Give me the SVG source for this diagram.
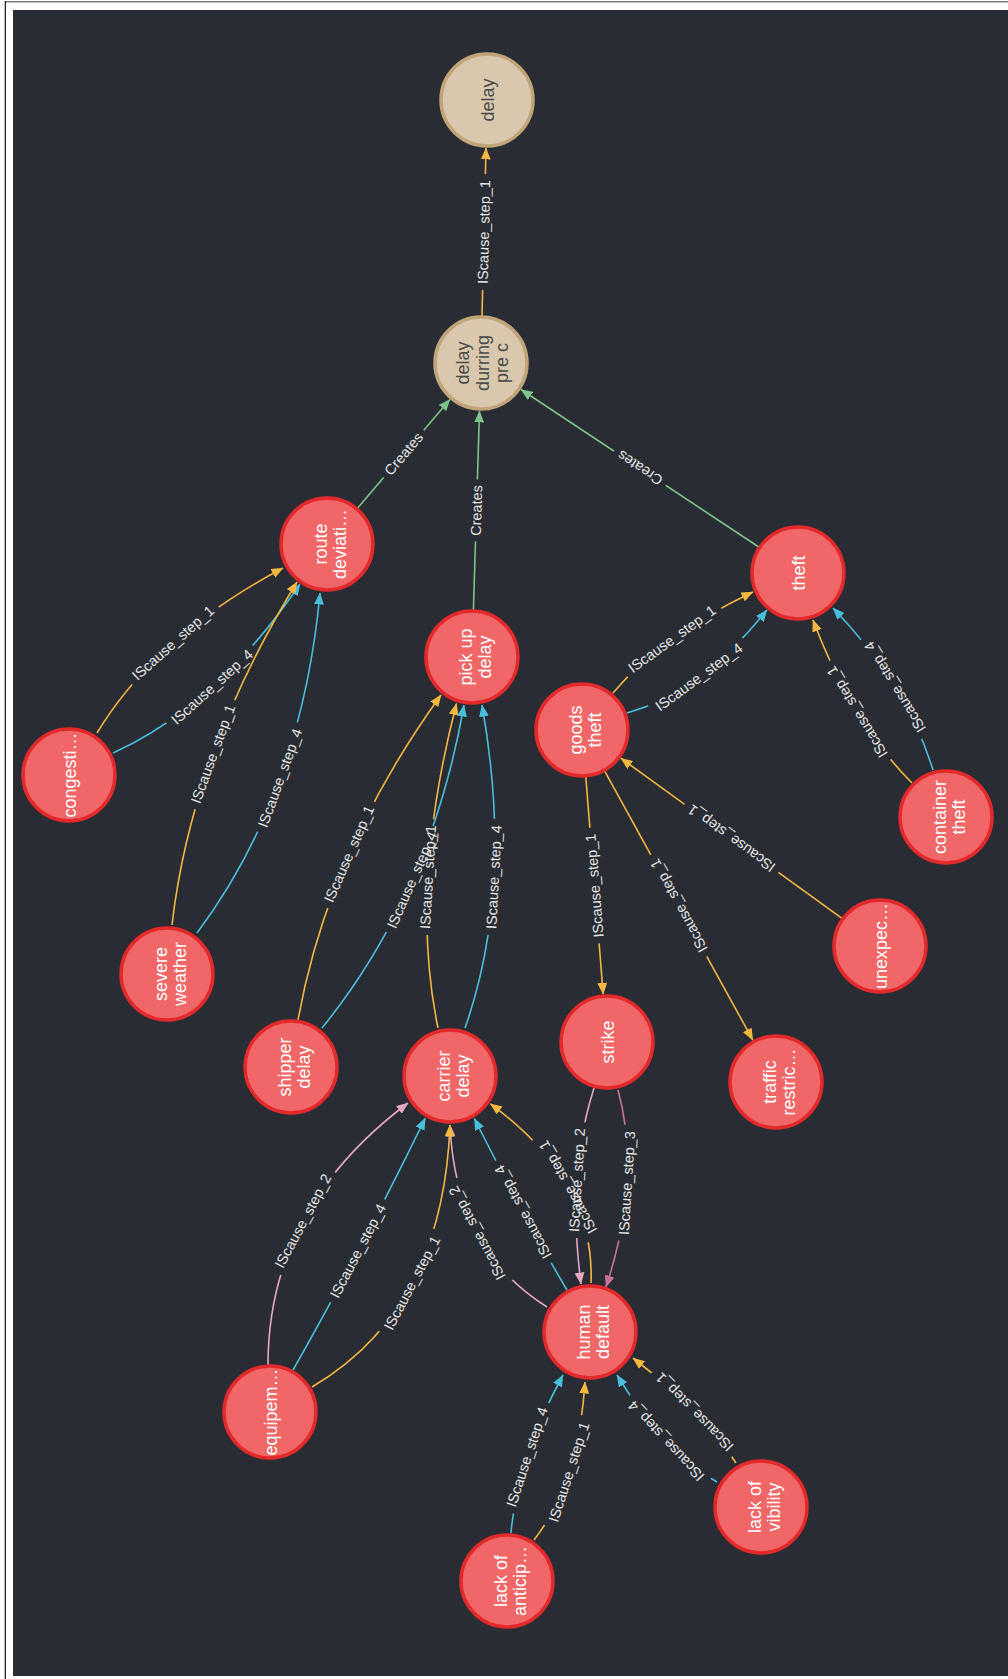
<svg xmlns="http://www.w3.org/2000/svg" width="1008" height="1679" viewBox="0 0 1008 1679">
<style>
.nr circle{fill:#f16767;stroke:#e2292b;stroke-width:3.5}
.nt circle{fill:#d9c8ad;stroke:#c1a57a;stroke-width:3.5}
.nl{font-family:"Liberation Sans",Arial,sans-serif;font-size:18px;fill:#ffffff;text-anchor:middle}
.nt .nl{fill:#4a4a4a}
.el{font-family:"Liberation Sans",Arial,sans-serif;font-size:14.5px;fill:#e6e6e6;text-anchor:middle;dominant-baseline:central}
.e{fill:none;stroke-width:1.6}
.o{stroke:#f5b841;marker-end:url(#ao)}
.b{stroke:#48bfdc;marker-end:url(#ab)}
.g{stroke:#7ec48b;marker-end:url(#ag)}
.p{stroke:#e5a8c3;marker-end:url(#ap)}
.dp{stroke:#c8739b;marker-end:url(#adp)}
</style>
<defs>
<marker id="ao" markerUnits="userSpaceOnUse" markerWidth="12" markerHeight="10" viewBox="0 0 11 9" refX="10.5" refY="4.5" orient="auto"><path d="M0,0 L11,4.5 L0,9 z" fill="#f5b841"/></marker>
<marker id="ab" markerUnits="userSpaceOnUse" markerWidth="12" markerHeight="10" viewBox="0 0 11 9" refX="10.5" refY="4.5" orient="auto"><path d="M0,0 L11,4.5 L0,9 z" fill="#48bfdc"/></marker>
<marker id="ag" markerUnits="userSpaceOnUse" markerWidth="12" markerHeight="10" viewBox="0 0 11 9" refX="10.5" refY="4.5" orient="auto"><path d="M0,0 L11,4.5 L0,9 z" fill="#7ec48b"/></marker>
<marker id="ap" markerUnits="userSpaceOnUse" markerWidth="12" markerHeight="10" viewBox="0 0 11 9" refX="10.5" refY="4.5" orient="auto"><path d="M0,0 L11,4.5 L0,9 z" fill="#e5a8c3"/></marker>
<marker id="adp" markerUnits="userSpaceOnUse" markerWidth="12" markerHeight="10" viewBox="0 0 11 9" refX="10.5" refY="4.5" orient="auto"><path d="M0,0 L11,4.5 L0,9 z" fill="#c8739b"/></marker>
<rect id="mw" width="1008" height="1679" fill="#fff"/>
<rect id="gl" x="-58" y="-15" width="116" height="30" fill="#000"/>
<rect id="gs" x="-31" y="-15" width="62" height="30" fill="#000"/>
<mask id="m1" maskUnits="userSpaceOnUse" x="0" y="0" width="1008" height="1679"><use href="#mw"/><use href="#gl" transform="translate(484,232) rotate(-88.6)"/></mask>
<mask id="m2" maskUnits="userSpaceOnUse" x="0" y="0" width="1008" height="1679"><use href="#mw"/><use href="#gs" transform="translate(403.7,453.8) rotate(-49.7)"/></mask>
<mask id="m3" maskUnits="userSpaceOnUse" x="0" y="0" width="1008" height="1679"><use href="#mw"/><use href="#gs" transform="translate(476.5,510.5) rotate(-88.2)"/></mask>
<mask id="m4" maskUnits="userSpaceOnUse" x="0" y="0" width="1008" height="1679"><use href="#mw"/><use href="#gs" transform="translate(640,468) rotate(-146.5)"/></mask>
<mask id="m5" maskUnits="userSpaceOnUse" x="0" y="0" width="1008" height="1679"><use href="#mw"/><use href="#gl" transform="translate(173,643) rotate(-41.6)"/></mask>
<mask id="m6" maskUnits="userSpaceOnUse" x="0" y="0" width="1008" height="1679"><use href="#mw"/><use href="#gl" transform="translate(212,687) rotate(-42.1)"/></mask>
<mask id="m7" maskUnits="userSpaceOnUse" x="0" y="0" width="1008" height="1679"><use href="#mw"/><use href="#gl" transform="translate(213,754) rotate(-70)"/></mask>
<mask id="m8" maskUnits="userSpaceOnUse" x="0" y="0" width="1008" height="1679"><use href="#mw"/><use href="#gl" transform="translate(280,778) rotate(-70.1)"/></mask>
<mask id="m9" maskUnits="userSpaceOnUse" x="0" y="0" width="1008" height="1679"><use href="#mw"/><use href="#gl" transform="translate(349,854) rotate(-66.3)"/></mask>
<mask id="m10" maskUnits="userSpaceOnUse" x="0" y="0" width="1008" height="1679"><use href="#mw"/><use href="#gl" transform="translate(412,880) rotate(-66.3)"/></mask>
<mask id="m11" maskUnits="userSpaceOnUse" x="0" y="0" width="1008" height="1679"><use href="#mw"/><use href="#gl" transform="translate(428,877) rotate(-86.7)"/></mask>
<mask id="m12" maskUnits="userSpaceOnUse" x="0" y="0" width="1008" height="1679"><use href="#mw"/><use href="#gl" transform="translate(494,877) rotate(-87)"/></mask>
<mask id="m13" maskUnits="userSpaceOnUse" x="0" y="0" width="1008" height="1679"><use href="#mw"/><use href="#gl" transform="translate(672,639) rotate(-35.8)"/></mask>
<mask id="m14" maskUnits="userSpaceOnUse" x="0" y="0" width="1008" height="1679"><use href="#mw"/><use href="#gl" transform="translate(699,677) rotate(-36.3)"/></mask>
<mask id="m15" maskUnits="userSpaceOnUse" x="0" y="0" width="1008" height="1679"><use href="#mw"/><use href="#gl" transform="translate(857,712) rotate(-121.3)"/></mask>
<mask id="m16" maskUnits="userSpaceOnUse" x="0" y="0" width="1008" height="1679"><use href="#mw"/><use href="#gl" transform="translate(895,687) rotate(-121.7)"/></mask>
<mask id="m17" maskUnits="userSpaceOnUse" x="0" y="0" width="1008" height="1679"><use href="#mw"/><use href="#gl" transform="translate(731.5,838.3) rotate(-144.1)"/></mask>
<mask id="m18" maskUnits="userSpaceOnUse" x="0" y="0" width="1008" height="1679"><use href="#mw"/><use href="#gl" transform="translate(594.5,885.6) rotate(-94.6)"/></mask>
<mask id="m19" maskUnits="userSpaceOnUse" x="0" y="0" width="1008" height="1679"><use href="#mw"/><use href="#gl" transform="translate(678.8,905.6) rotate(-118.9)"/></mask>
<mask id="m20" maskUnits="userSpaceOnUse" x="0" y="0" width="1008" height="1679"><use href="#mw"/><use href="#gl" transform="translate(577,1180) rotate(-86.6)"/></mask>
<mask id="m21" maskUnits="userSpaceOnUse" x="0" y="0" width="1008" height="1679"><use href="#mw"/><use href="#gl" transform="translate(627,1183) rotate(-86.5)"/></mask>
<mask id="m22" maskUnits="userSpaceOnUse" x="0" y="0" width="1008" height="1679"><use href="#mw"/><use href="#gl" transform="translate(477,1233) rotate(-118.1)"/></mask>
<mask id="m23" maskUnits="userSpaceOnUse" x="0" y="0" width="1008" height="1679"><use href="#mw"/><use href="#gl" transform="translate(523,1212) rotate(-118.4)"/></mask>
<mask id="m24" maskUnits="userSpaceOnUse" x="0" y="0" width="1008" height="1679"><use href="#mw"/><use href="#gl" transform="translate(568,1187) rotate(-119.3)"/></mask>
<mask id="m25" maskUnits="userSpaceOnUse" x="0" y="0" width="1008" height="1679"><use href="#mw"/><use href="#gl" transform="translate(303,1221) rotate(-61.9)"/></mask>
<mask id="m26" maskUnits="userSpaceOnUse" x="0" y="0" width="1008" height="1679"><use href="#mw"/><use href="#gl" transform="translate(358,1251) rotate(-62.3)"/></mask>
<mask id="m27" maskUnits="userSpaceOnUse" x="0" y="0" width="1008" height="1679"><use href="#mw"/><use href="#gl" transform="translate(412,1283) rotate(-62.2)"/></mask>
<mask id="m28" maskUnits="userSpaceOnUse" x="0" y="0" width="1008" height="1679"><use href="#mw"/><use href="#gl" transform="translate(527,1457) rotate(-71.8)"/></mask>
<mask id="m29" maskUnits="userSpaceOnUse" x="0" y="0" width="1008" height="1679"><use href="#mw"/><use href="#gl" transform="translate(569,1472) rotate(-72.1)"/></mask>
<mask id="m30" maskUnits="userSpaceOnUse" x="0" y="0" width="1008" height="1679"><use href="#mw"/><use href="#gl" transform="translate(666,1441) rotate(-133.1)"/></mask>
<mask id="m31" maskUnits="userSpaceOnUse" x="0" y="0" width="1008" height="1679"><use href="#mw"/><use href="#gl" transform="translate(694.5,1412) rotate(-134.5)"/></mask>
</defs>

<rect width="1008" height="1679" fill="#ffffff"/>
<line x1="5" y1="1.8" x2="1008" y2="1.8" stroke="#7a7a7a" stroke-width="1.6"/>
<line x1="5.3" y1="1" x2="5.3" y2="1679" stroke="#111" stroke-width="1.2"/>
<rect x="13" y="10" width="995" height="1666" fill="#292c33"/>

<g id="connectors">
<g id="edge-lines">
<path class="e o" mask="url(#m1)" d="M482,316 L486,148"/>
<path class="e g" mask="url(#m2)" d="M357.5,508.2 L449.9,399.4"/>
<path class="e g" mask="url(#m3)" d="M473.4,610 L479.5,411"/>
<path class="e g" mask="url(#m4)" d="M758.8,547 L521,389.5"/>
<path class="e o" mask="url(#m5)" d="M97,733 Q156,635.5 283,568"/>
<path class="e b" mask="url(#m6)" d="M113,753 Q217.5,705.5 300,584"/>
<path class="e o" mask="url(#m7)" d="M172,925 Q191.5,754.5 297,582"/>
<path class="e b" mask="url(#m8)" d="M197,933 Q301.5,793 320,593"/>
<path class="e o" mask="url(#m9)" d="M298,1020 Q328.5,850.5 441,695"/>
<path class="e b" mask="url(#m10)" d="M322,1028 Q431,893.5 464,705"/>
<path class="e o" mask="url(#m11)" d="M438,1028 Q408.75,888.25 456.5,703.5"/>
<path class="e b" mask="url(#m12)" d="M465,1028 Q514.5,887.5 482,705"/>
<path class="e o" mask="url(#m13)" d="M613,693 Q661,635.5 753,592"/>
<path class="e b" mask="url(#m14)" d="M627,713 Q701,692.5 767,610"/>
<path class="e o" mask="url(#m15)" d="M912,783 Q851.5,722.5 813,620"/>
<path class="e b" mask="url(#m16)" d="M933,770 Q907,685 833,608"/>
<path class="e o" mask="url(#m17)" d="M842,918.4 L620.9,758.2"/>
<path class="e o" mask="url(#m18)" d="M585.8,777 L603.2,994.2"/>
<path class="e o" mask="url(#m19)" d="M604.7,771.2 L752.8,1040"/>
<path class="e p" mask="url(#m20)" d="M594,1088 Q566.5,1174 581,1284"/>
<path class="e dp" mask="url(#m21)" d="M618,1090 Q642,1177.5 606,1287"/>
<path class="e p" mask="url(#m22)" d="M547,1307 Q455.5,1250 450,1125"/>
<path class="e b" mask="url(#m23)" d="M567,1290 Q525.3,1219.75 474.4,1118.5"/>
<path class="e o" mask="url(#m24)" d="M591,1283 Q595.3,1180.6 490.4,1103.8"/>
<path class="e p" mask="url(#m25)" d="M268,1365 Q268,1208 408,1103"/>
<path class="e b" mask="url(#m26)" d="M293,1370 Q356.9,1257.85 425.2,1118.3"/>
<path class="e o" mask="url(#m27)" d="M312,1387 Q443,1310 450,1125"/>
<path class="e b" mask="url(#m28)" d="M511,1533 Q517,1460 563,1375"/>
<path class="e o" mask="url(#m29)" d="M534,1540 Q578.5,1483 585,1382"/>
<path class="e b" mask="url(#m30)" d="M717,1482 Q665,1453.5 617,1375"/>
<path class="e o" mask="url(#m31)" d="M736,1463 Q704.5,1413.5 633,1358"/>
</g>
<g id="edge-labels">
<text class="el" transform="translate(484,232) rotate(-88.6)">IScause_step_1</text>
<text class="el" transform="translate(403.7,453.8) rotate(-49.7)">Creates</text>
<text class="el" transform="translate(476.5,510.5) rotate(-88.2)">Creates</text>
<text class="el" transform="translate(640,468) rotate(-146.5)">Creates</text>
<text class="el" transform="translate(173,643) rotate(-41.6)">IScause_step_1</text>
<text class="el" transform="translate(212,687) rotate(-42.1)">IScause_step_4</text>
<text class="el" transform="translate(213,754) rotate(-70)">IScause_step_1</text>
<text class="el" transform="translate(280,778) rotate(-70.1)">IScause_step_4</text>
<text class="el" transform="translate(349,854) rotate(-66.3)">IScause_step_1</text>
<text class="el" transform="translate(412,880) rotate(-66.3)">IScause_step_4</text>
<text class="el" transform="translate(428,877) rotate(-86.7)">IScause_step_1</text>
<text class="el" transform="translate(494,877) rotate(-87)">IScause_step_4</text>
<text class="el" transform="translate(672,639) rotate(-35.8)">IScause_step_1</text>
<text class="el" transform="translate(699,677) rotate(-36.3)">IScause_step_4</text>
<text class="el" transform="translate(857,712) rotate(-121.3)">IScause_step_1</text>
<text class="el" transform="translate(895,687) rotate(-121.7)">IScause_step_4</text>
<text class="el" transform="translate(731.5,838.3) rotate(-144.1)">IScause_step_1</text>
<text class="el" transform="translate(594.5,885.6) rotate(-94.6)">IScause_step_1</text>
<text class="el" transform="translate(678.8,905.6) rotate(-118.9)">IScause_step_1</text>
<text class="el" transform="translate(577,1180) rotate(-86.6)">IScause_step_2</text>
<text class="el" transform="translate(627,1183) rotate(-86.5)">IScause_step_3</text>
<text class="el" transform="translate(477,1233) rotate(-118.1)">IScause_step_2</text>
<text class="el" transform="translate(523,1212) rotate(-118.4)">IScause_step_4</text>
<text class="el" transform="translate(568,1187) rotate(-119.3)">IScause_step_1</text>
<text class="el" transform="translate(303,1221) rotate(-61.9)">IScause_step_2</text>
<text class="el" transform="translate(358,1251) rotate(-62.3)">IScause_step_4</text>
<text class="el" transform="translate(412,1283) rotate(-62.2)">IScause_step_1</text>
<text class="el" transform="translate(527,1457) rotate(-71.8)">IScause_step_4</text>
<text class="el" transform="translate(569,1472) rotate(-72.1)">IScause_step_1</text>
<text class="el" transform="translate(666,1441) rotate(-133.1)">IScause_step_4</text>
<text class="el" transform="translate(694.5,1412) rotate(-134.5)">IScause_step_1</text>
</g>
</g>

<g id="nodes">
<g id="n-delay" class="nt" transform="translate(487,100)"><circle r="46"/><text class="nl" transform="rotate(-90)" y="6.5">delay</text></g>
<g id="n-delay-durring-pre-c" class="nt" transform="translate(481,363)"><circle r="46"/><text class="nl" transform="rotate(-90)"><tspan x="0" y="-12">delay</tspan><tspan x="0" y="7.5">durring</tspan><tspan x="0" y="27">pre c</tspan></text></g>
<g id="n-route" class="nr" transform="translate(327,544)"><circle r="46"/><text class="nl" transform="rotate(-90)"><tspan x="0" y="0">route</tspan><tspan x="0" y="19">deviati…</tspan></text></g>
<g id="n-pickup" class="nr" transform="translate(472,657)"><circle r="46"/><text class="nl" transform="rotate(-90)"><tspan x="0" y="0">pick up</tspan><tspan x="0" y="19">delay</tspan></text></g>
<g id="n-theft" class="nr" transform="translate(798,573)"><circle r="46"/><text class="nl" transform="rotate(-90)" y="6.5">theft</text></g>
<g id="n-goods-theft" class="nr" transform="translate(582,730)"><circle r="46"/><text class="nl" transform="rotate(-90)"><tspan x="0" y="0">goods</tspan><tspan x="0" y="19">theft</tspan></text></g>
<g id="n-congestion" class="nr" transform="translate(69,775)"><circle r="46"/><text class="nl" transform="rotate(-90)" y="6.5">congesti…</text></g>
<g id="n-container-theft" class="nr" transform="translate(946,817)"><circle r="46"/><text class="nl" transform="rotate(-90)"><tspan x="0" y="0">container</tspan><tspan x="0" y="19">theft</tspan></text></g>
<g id="n-severe-weather" class="nr" transform="translate(167,974)"><circle r="46"/><text class="nl" transform="rotate(-90)"><tspan x="0" y="0">severe</tspan><tspan x="0" y="19">weather</tspan></text></g>
<g id="n-unexpected" class="nr" transform="translate(880,946)"><circle r="46"/><text class="nl" transform="rotate(-90)" y="6.5">unexpec…</text></g>
<g id="n-shipper-delay" class="nr" transform="translate(291,1067)"><circle r="46"/><text class="nl" transform="rotate(-90)"><tspan x="0" y="0">shipper</tspan><tspan x="0" y="19">delay</tspan></text></g>
<g id="n-carrier-delay" class="nr" transform="translate(450,1076)"><circle r="46"/><text class="nl" transform="rotate(-90)"><tspan x="0" y="0">carrier</tspan><tspan x="0" y="19">delay</tspan></text></g>
<g id="n-strike" class="nr" transform="translate(607,1042)"><circle r="46"/><text class="nl" transform="rotate(-90)" y="6.5">strike</text></g>
<g id="n-traffic" class="nr" transform="translate(776,1082)"><circle r="46"/><text class="nl" transform="rotate(-90)"><tspan x="0" y="0">traffic</tspan><tspan x="0" y="19">restric…</tspan></text></g>
<g id="n-equipment" class="nr" transform="translate(270,1412)"><circle r="46"/><text class="nl" transform="rotate(-90)" y="6.5">equipem…</text></g>
<g id="n-human-default" class="nr" transform="translate(590,1332)"><circle r="46"/><text class="nl" transform="rotate(-90)"><tspan x="0" y="0">human</tspan><tspan x="0" y="19">default</tspan></text></g>
<g id="n-lack-vibility" class="nr" transform="translate(761,1507)"><circle r="46"/><text class="nl" transform="rotate(-90)"><tspan x="0" y="0">lack of</tspan><tspan x="0" y="19">vibility</tspan></text></g>
<g id="n-lack-anticip" class="nr" transform="translate(507,1581)"><circle r="46"/><text class="nl" transform="rotate(-90)"><tspan x="0" y="0">lack of</tspan><tspan x="0" y="19">anticip…</tspan></text></g>
</g>
</svg>
